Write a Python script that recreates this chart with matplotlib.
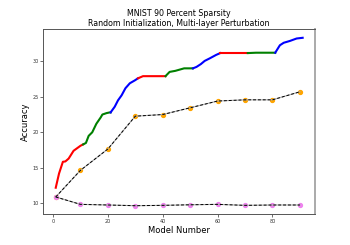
import matplotlib
matplotlib.use('Agg')
import matplotlib.pyplot as plt
import numpy as np

# main accuracy curve (model number, accuracy)
main_x = [1, 2.2, 3.6, 4.5, 5.7, 7.5, 10, 11,
          12, 13, 14.3, 15.8, 17.4, 18, 19.5, 20.7, 21,
          22.5, 23.7, 25, 26.4, 28, 29.8, 31,
          32.8, 35, 38, 41,
          42.5, 44.6, 47.8, 50.8, 51,
          52.3, 53.9, 55.3, 57.1, 59.5, 61,
          64, 67, 71,
          74, 77, 81,
          82.7, 84.1, 86.3, 88.8, 91]
main_y = [12.2, 14.2, 15.85, 15.9, 16.3, 17.4, 18.1, 18.3,
          18.5, 19.5, 20.0, 21.2, 22.1, 22.5, 22.7, 22.8, 22.8,
          23.6, 24.5, 25.2, 26.2, 26.9, 27.3, 27.6,
          27.9, 27.9, 27.9, 27.9,
          28.5, 28.65, 29.0, 29.0, 29.0,
          29.2, 29.6, 30.05, 30.4, 30.9, 31.15,
          31.15, 31.15, 31.15,
          31.2, 31.2, 31.2,
          32.25, 32.6, 32.85, 33.2, 33.3]
seg_colors = ['red', 'green', 'blue']
seg_bounds = [1, 11, 21, 31, 41, 51, 61, 71, 81, 91]

# sampled models
sample_x = [1, 10, 20, 30, 40, 50, 60, 70, 80, 90]
orange_y = [10.9, 14.65, 17.65, 22.27, 22.5, 23.45, 24.4, 24.57, 24.57, 25.7]
violet_y = [10.9, 9.86, 9.77, 9.67, 9.72, 9.8, 9.86, 9.72, 9.77, 9.77]

fig = plt.figure(figsize=(3.5, 2.45), dpi=100)
ax = fig.add_axes([0.124, 0.125, 0.776, 0.757])

mx = np.array(main_x)
my = np.array(main_y)
for i in range(len(seg_bounds) - 1):
    lo, hi = seg_bounds[i], seg_bounds[i + 1]
    mask = (mx >= lo) & (mx <= hi)
    ax.plot(mx[mask], my[mask], color=seg_colors[i % 3], linewidth=1.5)

for ys, c in [(orange_y, 'orange'), (violet_y, 'violet')]:
    ax.plot(sample_x, ys, 'o', color=c, markersize=2.8, zorder=3)
    ax.plot(sample_x, ys, '-', color='#aaaaaa', linewidth=0.8, zorder=3.5)
    ax.plot(sample_x, ys, 'k--', linewidth=0.7, dashes=(3, 2), zorder=4)

ax.set_xlim(-3.5, 95.5)
ax.set_ylim(8.45, 34.55)
ax.set_xticks([0, 20, 40, 60, 80])
ax.set_yticks([10, 15, 20, 25, 30])
ax.tick_params(labelsize=3.5, length=2, width=0.5, pad=1.5, colors='#333333')
for s in ax.spines.values():
    s.set_linewidth(0.7)
    s.set_color('#555555')
ax.spines['right'].set_linewidth(1.4)
ax.spines['right'].set_color('#aaaaaa')

ax.set_title('MNIST 90 Percent Sparsity\nRandom Initialization, Multi-layer Perturbation',
             fontsize=5.7, pad=2, linespacing=1.1)
ax.set_xlabel('Model Number', fontsize=6, labelpad=1)
ax.set_ylabel('Accuracy', fontsize=6, labelpad=2)

fig.savefig('out.png', dpi=100)
